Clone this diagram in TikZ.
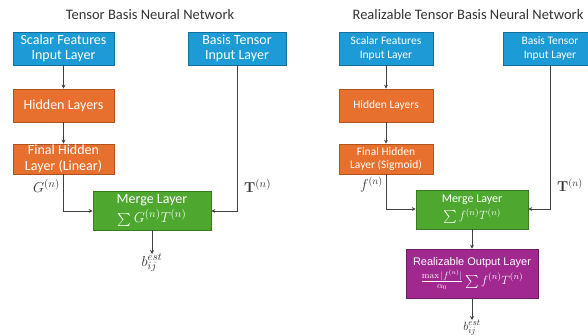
\documentclass[tikz,border=0pt]{standalone}
\usepackage[no-math]{fontspec}
\usepackage{graphicx}
\setmainfont{Carlito}
\newfontfamily\arialfont{Liberation Sans}
\usetikzlibrary{arrows.meta}
\newcommand{\bigsumsym}{\mathop{\raisebox{-0.15em}{\scalebox{1.3}{$\sum$}}}}
\definecolor{bblue}{HTML}{1C9BD6}
\definecolor{bbluedk}{HTML}{136F9C}
\definecolor{borange}{HTML}{E8702E}
\definecolor{borangedk}{HTML}{B0541F}
\definecolor{bgreen}{HTML}{4EA72E}
\definecolor{bgreendk}{HTML}{377A20}
\definecolor{bpurple}{HTML}{A0288F}
\definecolor{bpurpledk}{HTML}{6E1B63}
\definecolor{lncol}{HTML}{404040}
\begin{document}
\begin{tikzpicture}[x=1pt,y=-1pt,
  boxbase/.style={draw, line width=0.6pt, text=white, align=center, inner sep=0pt, anchor=center},
  bluebox/.style={boxbase, fill=bblue, draw=bbluedk},
  orangebox/.style={boxbase, fill=borange, draw=borangedk},
  greenbox/.style={boxbase, fill=bgreen, draw=bgreendk},
  purplebox/.style={boxbase, fill=bpurple, draw=bpurpledk},
  bigtext/.style={font=\fontsize{14}{15.5}\selectfont},
  smalltext/.style={font=\fontsize{11.5}{13.5}\selectfont},
  titletext/.style={font=\fontsize{14.5}{16}\selectfont, text=black!80},
  conn/.style={draw=lncol, line width=0.7pt, -{Stealth[length=4pt,width=4pt]}},
  lbl/.style={inner sep=0pt, text=black!80}
]
\useasboundingbox (0,0) rectangle (588,336);
% ---------- Left panel ----------
\node[titletext] (t1) at (150,15) {Tensor Basis Neural Network};
\node[bluebox, bigtext, minimum width=101pt, minimum height=33pt] (sf1) at (63.5,48.5) {Scalar Features\\Input Layer};
\node[bluebox, bigtext, minimum width=98pt, minimum height=33pt] (bt1) at (237,48.5) {Basis Tensor\\Input Layer};
\node[orangebox, bigtext, minimum width=101pt, minimum height=33pt] (hl1) at (63.5,105.5) {Hidden Layers};
\node[orangebox, bigtext, minimum width=101pt, minimum height=30pt] (fh1) at (63.5,159) {Final Hidden\\Layer (Linear)};
\node[greenbox, minimum width=118pt, minimum height=39pt] (mg1) at (152,210.5) {{\fontsize{14}{15}\selectfont Merge Layer}\\[2.5pt]{\fontsize{15}{16}\selectfont$\bigsumsym G^{(n)}T^{(n)}$}};
\coordinate (c1a) at (63.5,211);
\coordinate (c1b) at (237,211);
\node[lbl, font=\fontsize{15}{16}\selectfont, anchor=east] (g1) at (60,186) {$G^{(n)}$};
\node[lbl, font=\fontsize{15}{16}\selectfont, anchor=west] (tt1) at (244,186) {$\mathbf{T}^{(n)}$};
\node[lbl, font=\fontsize{15}{16}\selectfont, anchor=north] (b1) at (152,254) {$b_{ij}^{est}$};
\draw[conn] (sf1) -- (hl1);
\draw[conn] (hl1) -- (fh1);
\draw[conn] (fh1.south) -- (c1a) -- (mg1.west |- c1a);
\draw[conn] (bt1.south) -- (c1b) -- (mg1.east |- c1b);
\draw[conn] (mg1.south) -- (b1.north);
% ---------- Right panel ----------
\node[titletext] (t2) at (468,15) {Realizable Tensor Basis Neural Network};
\node[bluebox, smalltext, minimum width=94pt, minimum height=33pt] (sf2) at (386,48.5) {Scalar Features\\Input Layer};
\node[bluebox, smalltext, minimum width=94pt, minimum height=33pt] (bt2) at (550,48.5) {Basis Tensor\\Input Layer};
\node[orangebox, smalltext, minimum width=94pt, minimum height=33pt] (hl2) at (386,105.5) {Hidden Layers};
\node[orangebox, smalltext, minimum width=94pt, minimum height=30pt] (fh2) at (386,159) {Final Hidden\\Layer (Sigmoid)};
\node[greenbox, minimum width=112pt, minimum height=39pt] (mg2) at (472,209.5) {{\fontsize{12}{13}\selectfont Merge Layer}\\[2.5pt]{\fontsize{13}{14}\selectfont$\bigsumsym f^{(n)}T^{(n)}$}};
\node[purplebox, minimum width=132pt, minimum height=49pt] (ro2) at (472,273.5) {{\arialfont\fontsize{11}{13}\selectfont Realizable Output Layer}\\[1pt]{\fontsize{12.5}{14}\selectfont$\frac{\max|f^{(n)}|}{\alpha_0}\bigsumsym f^{(n)}T^{(n)}$}};
\coordinate (c2a) at (386,209);
\coordinate (c2b) at (550,209);
\node[lbl, font=\fontsize{14}{15}\selectfont, anchor=east] (f2) at (383,185) {$f^{(n)}$};
\node[lbl, font=\fontsize{14}{15}\selectfont, anchor=west] (tt2) at (557,185) {$\mathbf{T}^{(n)}$};
\node[lbl, font=\fontsize{13}{14}\selectfont, anchor=north] (b2) at (472,320) {$b_{ij}^{est}$};
\draw[conn] (sf2) -- (hl2);
\draw[conn] (hl2) -- (fh2);
\draw[conn] (fh2.south) -- (c2a) -- (mg2.west |- c2a);
\draw[conn] (bt2.south) -- (c2b) -- (mg2.east |- c2b);
\draw[conn] (mg2) -- (ro2);
\draw[conn] (ro2.south) -- (b2.north);
\end{tikzpicture}
\end{document}
